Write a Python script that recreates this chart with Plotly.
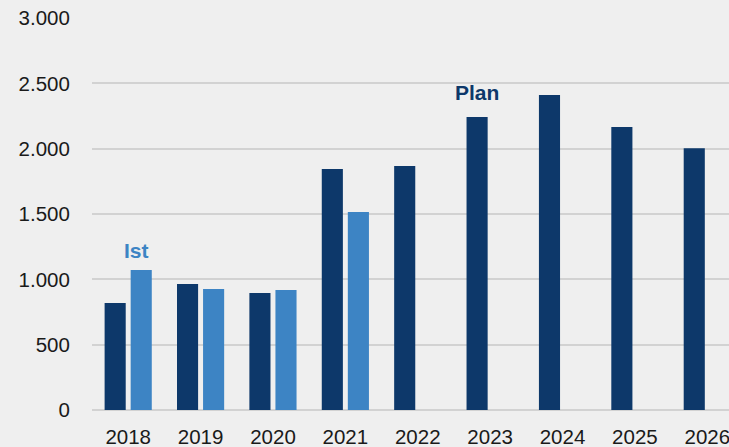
import plotly.graph_objects as go

years = ["2018", "2019", "2020", "2021", "2022", "2023", "2024", "2025", "2026"]
plan = [819, 964, 895, 1844, 1867, 2242, 2410, 2165, 2004]
ist = [1071, 926, 918, 1515, None, None, None, None, None]

NAVY = "#0d386a"
LIGHT = "#3d84c4"
BG = "#efefef"
FONT = "Liberation Sans, Arial, sans-serif"

fig = go.Figure()
fig.add_trace(go.Bar(x=years, y=plan, name="Plan", marker_color=NAVY, marker_line_width=0))
fig.add_trace(go.Bar(x=years, y=ist, name="Ist", marker_color=LIGHT, marker_line_width=0))

fig.add_annotation(x=years.index("2018"), y=ist[0], text="<b>Ist</b>", showarrow=False,
                   xshift=8, yshift=20, font=dict(family=FONT, size=21, color=LIGHT))
fig.add_annotation(x=years.index("2023"), y=plan[5], text="<b>Plan</b>", showarrow=False,
                   xshift=-13, yshift=25, font=dict(family=FONT, size=21, color=NAVY))

fig.update_layout(
    width=729, height=447,
    margin=dict(l=92, r=0, t=18, b=37),
    paper_bgcolor=BG, plot_bgcolor=BG,
    barmode="group", bargap=0.28, bargroupgap=0.19,
    showlegend=False,
    separators=",.",
    font=dict(family=FONT, size=20.5, color="#1a1a1a"),
    xaxis=dict(type="category", range=[-0.5, 8.3], showgrid=False, showline=False,
               zeroline=False, ticks="outside", ticklen=8, tickcolor=BG, automargin=False,
               tickfont=dict(size=20.5, color="#1a1a1a")),
    yaxis=dict(range=[0, 3000], dtick=500, tickformat=",d", showgrid=True, automargin=False,
               gridcolor="#d2d2d2", gridwidth=2, zeroline=True, zerolinecolor="#d2d2d2",
               zerolinewidth=2, showline=False, ticks="outside", ticklen=17, tickcolor=BG,
               tickfont=dict(size=20.5, color="#1a1a1a")),
)

fig.write_html("out.html", config={"displayModeBar": False})
with open("out.html", encoding="utf-8") as f:
    html = f.read()
html = html.replace("<head>", "<head><style>html,body{margin:0;padding:0;overflow:hidden;background:#efefef;}</style>", 1)
with open("out.html", "w", encoding="utf-8") as f:
    f.write(html)
